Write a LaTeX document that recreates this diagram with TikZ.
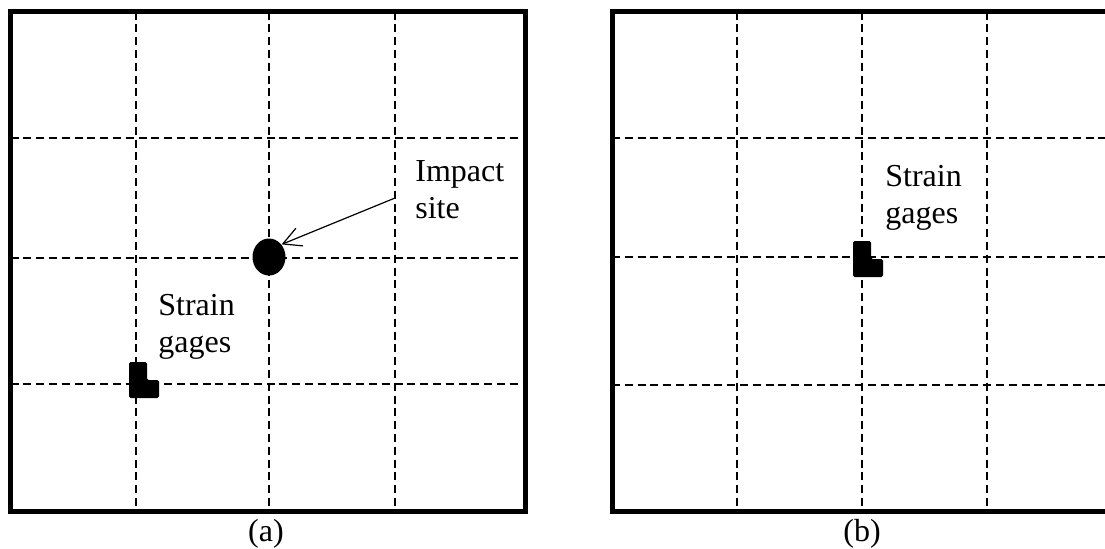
\documentclass[tikz,border=0pt]{standalone}
\usepackage{fontspec}
\setmainfont{Liberation Serif}
\usetikzlibrary{arrows.meta,shapes.geometric}
% L-shaped strain gage, #1,#2 = lower left corner
\newcommand{\gagemark}[2]{\fill[rounded corners=0.8pt] (#1,#2) -- ++(0,-36) -- ++(18,0) -- ++(0,18) -- ++(12,0) -- ++(0,18) -- cycle;}
\begin{document}
\begin{tikzpicture}[x=0.5pt, y=-0.5pt,
		panel/.style={line width=2.5pt},
		gridline/.style={line width=0.65pt, dash pattern=on 4pt off 2.4pt},
		txt/.style={font=\fontsize{16}{18.5}\selectfont, align=left,
			inner sep=0pt, anchor=base west},
		caption/.style={font=\fontsize{16}{18.5}\selectfont, inner sep=0pt, anchor=base}]
		\clip (0,0) rectangle (1105,548);
		% panel (a)
		\foreach \x in {136,269,395} \draw[gridline] (\x,11.5) -- (\x,511);
		\foreach \y in {138,258,384} \draw[gridline] (10.5,\y) -- (525,\y);
		\draw[panel] (10.5,11.5) rectangle (525,511);
		\node[ellipse, fill, minimum width=16.5pt, minimum height=18.5pt, inner sep=0pt] (impact) at (269,257) {};
		\node[txt] (impactlbl) at (415,218) {Impact\\site};
		\coordinate (tail) at (395,198);
		\draw[-{Straight Barb[length=9pt,width=9.5pt]}, line width=0.6pt] (tail) -- (impact.45);
		\gagemark{129}{398}
		\node[txt] (gagelbla) at (158,352) {Strain\\gages};
		\node[caption] (capa) at (266,541) {(a)};
		% panel (b)
		\foreach \x in {737,862,987} \draw[gridline] (\x,11.5) -- (\x,511.5);
		\foreach \y in {138,257,385} \draw[gridline] (612,\y) -- (1112,\y);
		\draw[panel] (612,11.5) rectangle (1112,511.5);
		\gagemark{853}{277}
		\node[txt] (gagelblb) at (885,223) {Strain\\gages};
		\node[caption] (capb) at (862,541) {(b)};
\end{tikzpicture}
\end{document}
